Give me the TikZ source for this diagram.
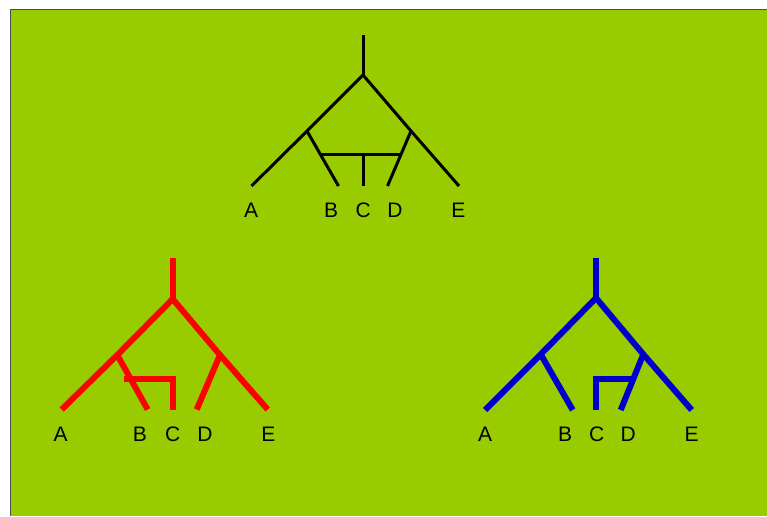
\documentclass[tikz,border=0pt]{standalone}
\usepackage{fontspec}
\setmainfont{Liberation Sans}
\definecolor{leafgreen}{HTML}{99CC00}
\definecolor{treeblue}{HTML}{0000CC}
\begin{document}
\begin{tikzpicture}[x=1pt, y=-1pt,
branch/.style={line width=3pt, line cap=butt},
thickbranch/.style={line width=6pt, line cap=butt},
taxon/.style={anchor=base, inner sep=0pt, font=\fontsize{21}{21}\selectfont}
]
\useasboundingbox (0,0) rectangle (767,516);
\fill[leafgreen] (10,10) rectangle (767,516);
\draw[black!70, line width=1pt] (10,516) -- (10,10) -- (767,10);
% species tree
\coordinate (top) at (363,35);
\coordinate (root) at (363,75);
\coordinate (left) at (307,131);
\coordinate (right) at (411,131);
\coordinate (a) at (251.5,186);
\coordinate (b) at (338.5,186);
\coordinate (c) at (363,186);
\coordinate (d) at (387.5,186);
\coordinate (e) at (459,186);
\coordinate (barl) at (320.5,154.5);
\coordinate (barr) at (401.5,154.5);
\coordinate (barc) at (363,154.5);
\draw[branch] (top) -- (root);
\draw[branch] (root) -- (left) -- (a);
\draw[branch] (root) -- (right) -- (e);
\draw[branch] (left) -- (b);
\draw[branch] (right) -- (d);
\draw[branch] (barl) -- (barr);
\draw[branch] (barc) -- (c);
\node[taxon] (la) at (251,217.5) {A};
\node[taxon] (lb) at (331,217.5) {B};
\node[taxon] (lc) at (363.3,217.5) {C};
\node[taxon] (ld) at (395,217.5) {D};
\node[taxon] (le) at (458.3,217.5) {E};
% red gene tree
\begin{scope}[red]
\coordinate (rtop) at (172.7,258);
\coordinate (rroot) at (172.7,299);
\coordinate (rleft) at (117.3,355);
\coordinate (rright) at (220,355);
\coordinate (ra) at (61.7,409.5);
\coordinate (rb) at (147.7,409.5);
\coordinate (rc) at (172.7,409.5);
\coordinate (rd) at (196.7,409.5);
\coordinate (re) at (267.7,409.5);
\coordinate (rbar) at (124,378.7);
\coordinate (rbarc) at (172.7,378.7);
\draw[thickbranch] (rtop) -- (rroot);
\draw[thickbranch, line join=miter] (ra) -- (rleft) -- (rroot) -- (rright) -- (re);
\draw[thickbranch] (rleft) -- (rb);
\draw[thickbranch] (rright) -- (rd);
\draw[thickbranch, line join=miter] (rbar) -- (rbarc) -- (rc);
\end{scope}
\node[taxon] (rla) at (60.7,441.5) {A};
\node[taxon] (rlb) at (140,441.5) {B};
\node[taxon] (rlc) at (172.7,441.5) {C};
\node[taxon] (rld) at (205,441.5) {D};
\node[taxon] (rle) at (268.3,441.5) {E};
% blue gene tree
\begin{scope}[treeblue]
\coordinate (btop) at (596,258);
\coordinate (broot) at (596,298);
\coordinate (bleft) at (540.7,354.3);
\coordinate (bright) at (643.3,354.3);
\coordinate (ba) at (485,410);
\coordinate (bb) at (572.7,410);
\coordinate (bc) at (596,410);
\coordinate (bd) at (620.7,410);
\coordinate (be) at (691.7,410);
\coordinate (bbar) at (633.5,378.7);
\coordinate (bbarc) at (596,378.7);
\draw[thickbranch] (btop) -- (broot);
\draw[thickbranch, line join=miter] (ba) -- (bleft) -- (broot) -- (bright) -- (be);
\draw[thickbranch] (bleft) -- (bb);
\draw[thickbranch] (bright) -- (bd);
\draw[thickbranch, line join=miter] (bbar) -- (bbarc) -- (bc);
\end{scope}
\node[taxon] (bla) at (485,441.5) {A};
\node[taxon] (blb) at (565,441.5) {B};
\node[taxon] (blc) at (596.7,441.5) {C};
\node[taxon] (bld) at (628.3,441.5) {D};
\node[taxon] (ble) at (691.7,441.5) {E};
\end{tikzpicture}
\end{document}
